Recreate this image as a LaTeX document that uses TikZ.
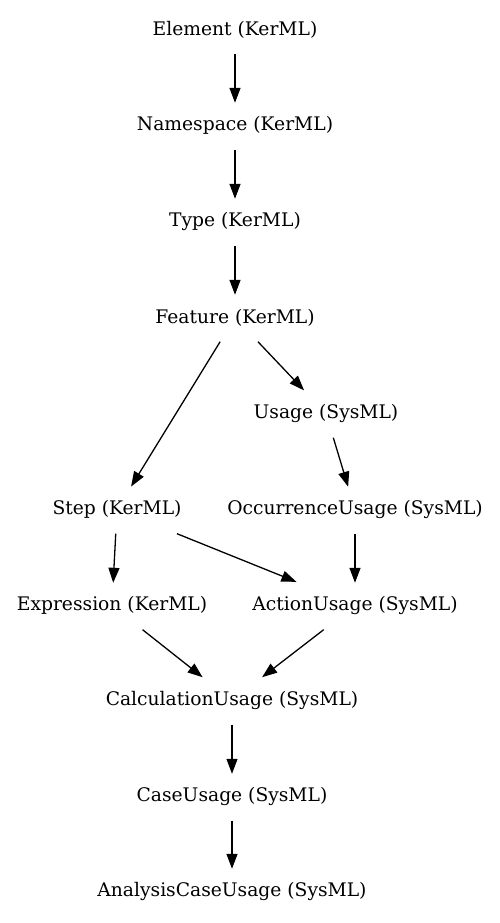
\documentclass[tikz,border=0pt]{standalone}
\usepackage{fontspec}
\setmainfont{DejaVu Serif}
\usetikzlibrary{arrows.meta}
\begin{document}
\begin{tikzpicture}[x=1pt,y=-1pt,
  cls/.style={rectangle,inner sep=0pt,minimum height=48pt,minimum width=140pt,font=\fontsize{18.7}{22}\selectfont},
  edge/.style={line width=1.3pt,shorten >=-1.5pt,-{Triangle[length=15pt,width=11pt]}}]
\useasboundingbox (0,0) rectangle (499,923);
\begin{scope}[yshift=-1.5pt]
\node[cls] (el)  at (235,28)  {Element (KerML)};
\node[cls] (ns)  at (235,124) {Namespace (KerML)};
\node[cls] (ty)  at (235,220) {Type (KerML)};
\node[cls] (fe)  at (235,316) {Feature (KerML)};
\node[cls] (us)  at (326,412) {Usage (SysML)};
\node[cls] (st)  at (117,508) {Step (KerML)};
\node[cls] (oc)  at (355,508) {OccurrenceUsage (SysML)};
\node[cls] (ex)  at (112,604) {Expression (KerML)};
\node[cls] (ac)  at (355,604) {ActionUsage (SysML)};
\node[cls] (ca)  at (232,699) {CalculationUsage (SysML)};
\node[cls] (cs)  at (232,795) {CaseUsage (SysML)};
\node[cls] (an)  at (232,890) {AnalysisCaseUsage (SysML)};
\end{scope}
\draw[edge] (el) -- (ns);
\draw[edge] (ns) -- (ty);
\draw[edge] (ty) -- (fe);
\draw[edge] (fe) -- (st);
\draw[edge] (fe) -- (us);
\draw[edge] (us) -- (oc);
\draw[edge] (st) -- (ex);
\draw[edge] (st) -- (ac);
\draw[edge] (oc) -- (ac);
\draw[edge] (ex) -- (ca);
\draw[edge] (ac) -- (ca);
\draw[edge] (ca) -- (cs);
\draw[edge] (cs) -- (an);
\end{tikzpicture}
\end{document}
